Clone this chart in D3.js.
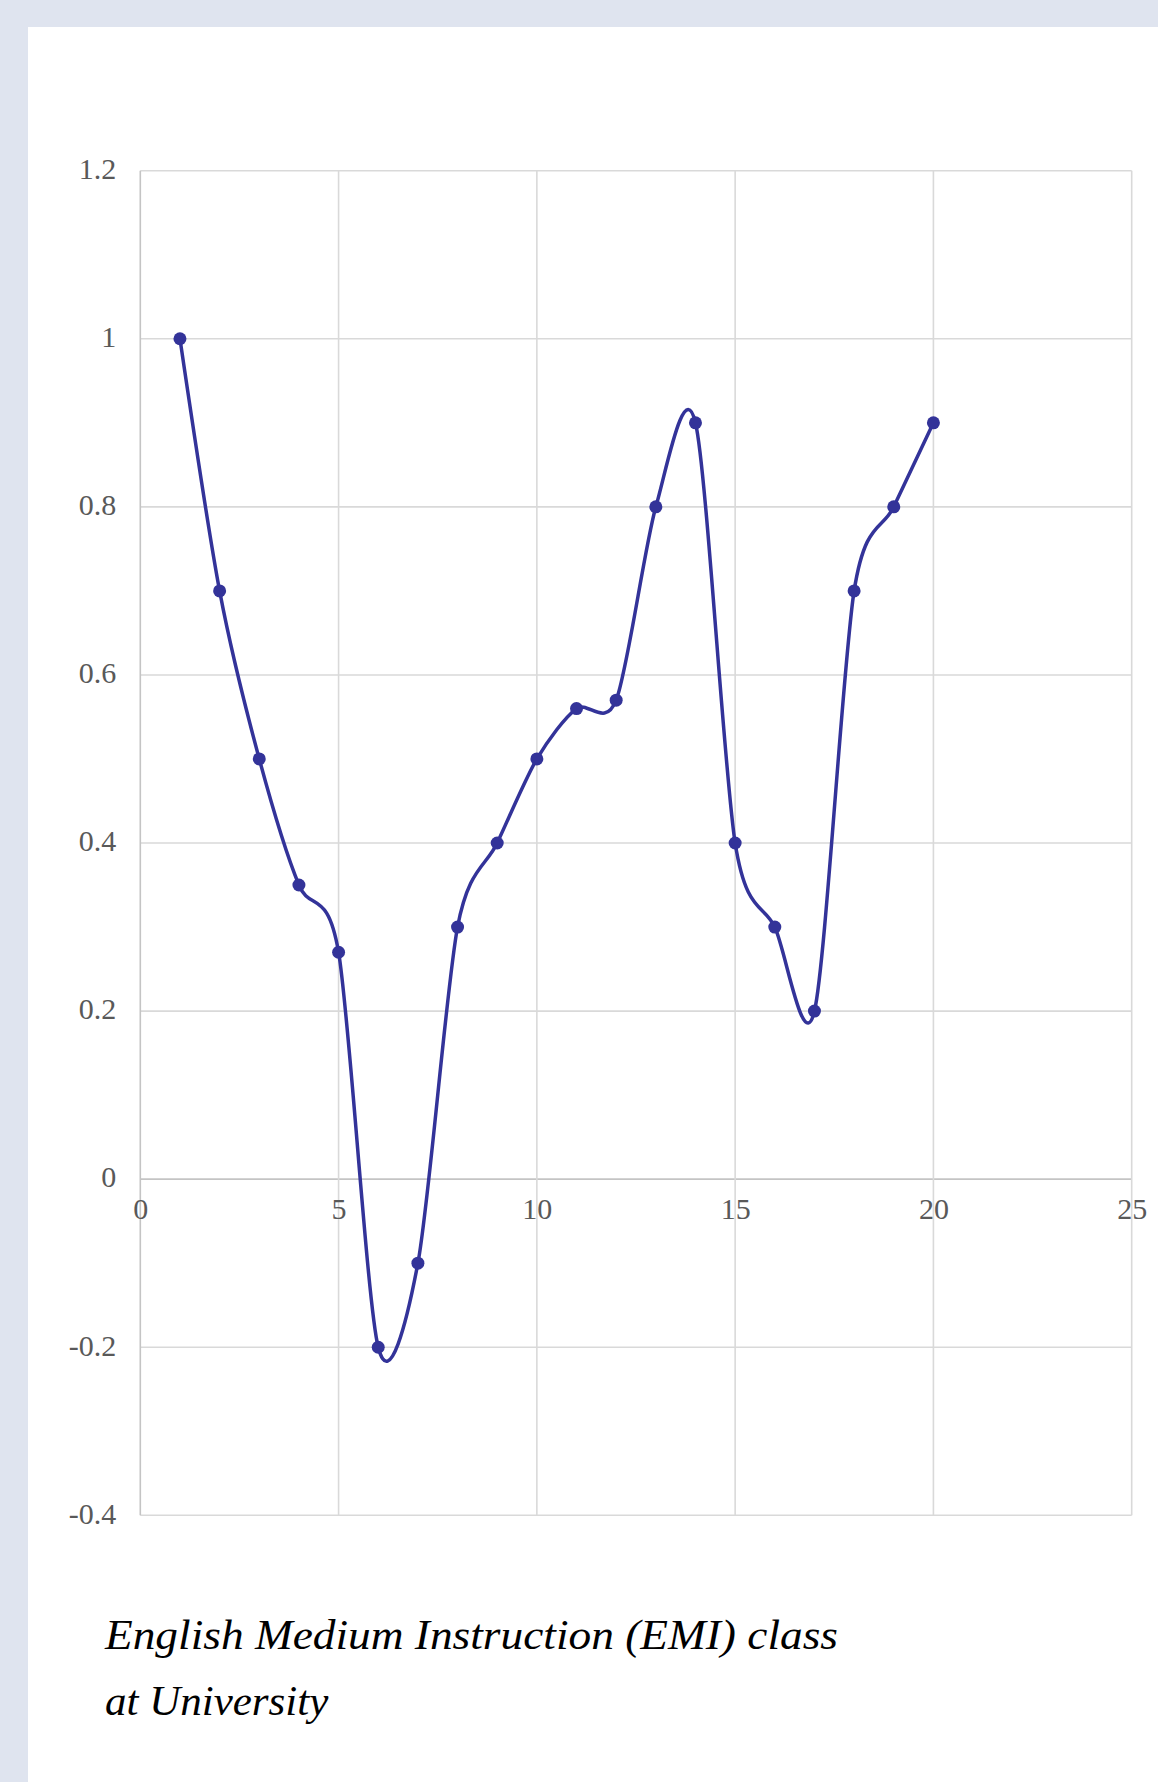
<!DOCTYPE html>
<html>
<head>
<meta charset="utf-8">
<script src="https://cdn.jsdelivr.net/npm/d3@7"></script>
<style>
  html, body { margin: 0; padding: 0; background: #dfe4ef; }
  svg { display: block; }
  .lbl { font-family: "Liberation Serif", "Times New Roman", serif; }
</style>
</head>
<body>
<svg id="chart" width="1158" height="1782"></svg>
<script>
// ---- data ----
const xValues = [1, 2, 3, 4, 5, 6, 7, 8, 9, 10, 11, 12, 13, 14, 15, 16, 17, 18, 19, 20];
const yValues = [1, 0.7, 0.5, 0.35, 0.27, -0.2, -0.1, 0.3, 0.4, 0.5, 0.56, 0.57, 0.8, 0.9, 0.4, 0.3, 0.2, 0.7, 0.8, 0.9];
const xTicks = [0, 5, 10, 15, 20, 25];
const xTickLabels = ["0", "5", "10", "15", "20", "25"];
const yTicks = [1.2, 1, 0.8, 0.6, 0.4, 0.2, 0, -0.2, -0.4];
const yTickLabels = ["1.2", "1", "0.8", "0.6", "0.4", "0.2", "0", "-0.2", "-0.4"];
const titleLines = ["English Medium Instruction (EMI) class", "at University"];

// ---- layout ----
const svg = d3.select("#chart");
svg.append("rect").attr("x", 28).attr("y", 27).attr("width", 1130).attr("height", 1755).attr("fill", "#ffffff");

const x = d3.scaleLinear().domain([0, 25]).range([140.3, 1131.7]);
const y = d3.scaleLinear().domain([-0.4, 1.2]).range([1515.3, 170.7]);

const grid = svg.append("g");
grid.selectAll("line.h").data(yTicks).enter().append("line")
  .attr("x1", x(0)).attr("x2", x(25))
  .attr("y1", d => y(d)).attr("y2", d => y(d))
  .attr("stroke", d => d === 0 ? "#c4c4c4" : "#d9d9d9").attr("stroke-width", 1.6);
grid.selectAll("line.v").data(xTicks).enter().append("line")
  .attr("y1", y(1.2)).attr("y2", y(-0.4))
  .attr("x1", d => x(d)).attr("x2", d => x(d))
  .attr("stroke", d => d === 0 ? "#c4c4c4" : "#d9d9d9").attr("stroke-width", 1.6);

// y axis labels
const yAxis = d3.axisLeft(y).tickValues(yTicks)
  .tickFormat((d, i) => yTickLabels[i]).tickSize(0).tickPadding(24);
const gy = svg.append("g").attr("transform", `translate(${x(0)},0)`).call(yAxis);
gy.select(".domain").remove();
gy.attr("font-family", null).attr("font-size", null);
gy.selectAll("text").attr("class", "lbl")
  .attr("font-size", 30).attr("fill", "#595959")
  .attr("dy", "0.26em").attr("x", -24);

// x axis labels (on the zero line)
const xAxis = d3.axisBottom(x).tickValues(xTicks)
  .tickFormat((d, i) => xTickLabels[i]).tickSize(0).tickPadding(0);
const gx = svg.append("g").attr("transform", `translate(0,${y(0)})`).call(xAxis);
gx.select(".domain").remove();
gx.attr("font-family", null).attr("font-size", null);
gx.selectAll("text").attr("class", "lbl")
  .attr("font-size", 30).attr("fill", "#595959")
  .attr("dy", null).attr("y", 40);

// smoothed line
const pts = xValues.map((v, i) => [v, yValues[i]]);
const line = d3.line().x(d => x(d[0])).y(d => y(d[1])).curve(d3.curveCardinal.tension(0.15));
svg.append("path").datum(pts).attr("d", line)
  .attr("fill", "none").attr("stroke", "#333399").attr("stroke-width", 3.5)
  .attr("stroke-linejoin", "round");

svg.append("g").selectAll("circle").data(pts).enter().append("circle")
  .attr("cx", d => x(d[0])).attr("cy", d => y(d[1])).attr("r", 6.5)
  .attr("fill", "#333399");

// title
const title = svg.append("g");
titleLines.forEach((t, i) => {
  const txt = title.append("text").attr("class", "lbl")
    .attr("x", 105).attr("y", 1649 + i * 66)
    .attr("font-style", "italic").attr("font-size", 43).attr("fill", "#000")
    .text(t);
  const target = i === 0 ? 733 : 225;
  const w = txt.node().getComputedTextLength();
  if (Math.abs(w - target) > 4) {
    txt.attr("textLength", target).attr("lengthAdjust", "spacingAndGlyphs");
  }
});
</script>
</body>
</html>
